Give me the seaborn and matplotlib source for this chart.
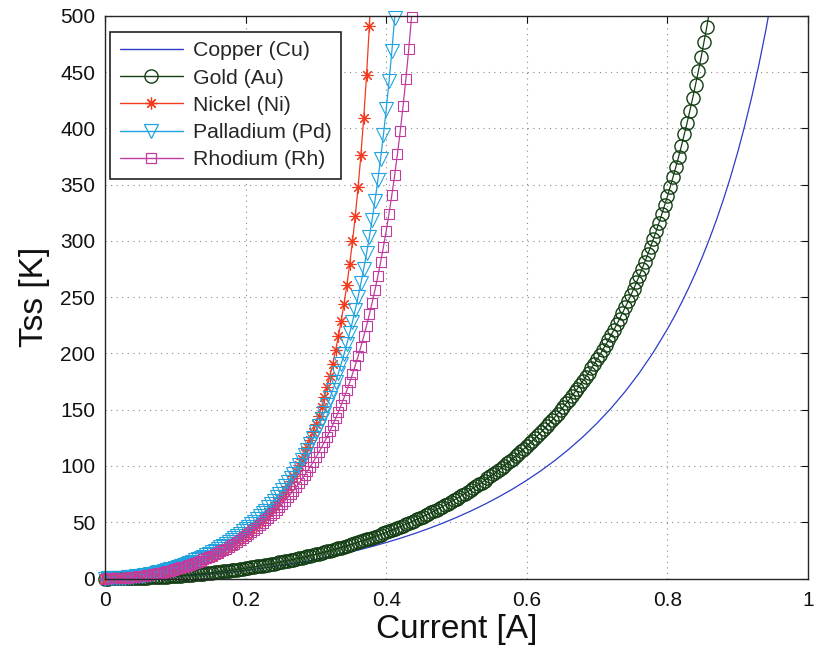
import numpy as np
import pandas as pd
import matplotlib
matplotlib.use("Agg")
import matplotlib.pyplot as plt
from matplotlib.lines import Line2D
import seaborn as sns

# ---------------- data ----------------
series_names = ["Copper (Cu)", "Gold (Au)", "Nickel (Ni)", "Palladium (Pd)", "Rhodium (Rh)"]

# Copper: plain line, currents listed explicitly
copper_current = [0.00, 0.02, 0.04, 0.06, 0.08, 0.10, 0.12, 0.14, 0.16, 0.18,
                  0.20, 0.22, 0.24, 0.26, 0.28, 0.30, 0.32, 0.34, 0.36, 0.38,
                  0.40, 0.42, 0.44, 0.46, 0.48, 0.50, 0.52, 0.54, 0.56, 0.58,
                  0.60, 0.62, 0.64, 0.66, 0.68, 0.70, 0.72, 0.74, 0.76, 0.78,
                  0.80, 0.81, 0.82, 0.83, 0.84, 0.85, 0.86, 0.87, 0.88, 0.89,
                  0.90, 0.91, 0.92, 0.93, 0.94, 0.95]
copper_T = [0, 0.07, 0.28, 0.63, 1.13, 1.77, 2.55, 3.49, 4.58, 5.82,
            7.23, 8.81, 10.56, 12.50, 14.62, 16.95, 19.48, 22.24, 25.23, 28.47,
            31.99, 35.78, 39.88, 44.31, 49.10, 54.28, 59.88, 65.94, 72.50, 79.62,
            87.36, 95.78, 104.97, 115.01, 126.01, 138.12, 151.46, 166.25, 182.69, 201.07,
            221.71, 233.02, 245.06, 257.91, 271.65, 286.37, 302.18, 319.20, 337.55, 357.43,
            379.00, 402.50, 428.17, 456.36, 487.43, 521.83]

# marker series are sampled every 0.004 A starting at 0 A
current_step = 0.004

gold_T = [0, 0.00, 0.01, 0.03, 0.06, 0.09, 0.13, 0.17, 0.22, 0.28,
          0.35, 0.42, 0.50, 0.59, 0.69, 0.79, 0.90, 1.02, 1.14, 1.27,
          1.41, 1.55, 1.71, 1.87, 2.03, 2.21,
          2.39, 2.58, 2.77, 2.98, 3.19, 3.41, 3.64, 3.87, 4.11, 4.36,
          4.62, 4.89, 5.16, 5.44, 5.73, 6.03, 6.33, 6.65, 6.97, 7.30,
          7.64, 7.99, 8.34, 8.71, 9.08, 9.46, 9.85, 10.3, 10.7, 11.1,
          11.5, 11.9, 12.4, 12.8, 13.3, 13.8, 14.3, 14.7, 15.2, 15.8,
          16.3, 16.8, 17.4, 17.9, 18.5, 19.0, 19.6, 20.2, 20.8, 21.5,
          22.1, 22.7, 23.4, 24.0, 24.7, 25.4, 26.1, 26.8, 27.5, 28.3,
          29.0, 29.8, 30.6, 31.4, 32.2, 33.0, 33.8, 34.7, 35.5, 36.4,
          37.3, 38.2, 39.1, 40.1, 41.0, 42.0, 43.0, 44.0, 45.0, 46.0,
          47.1, 48.2, 49.2, 50.4, 51.5, 52.6, 53.8, 55.0, 56.2, 57.4,
          58.7, 60.0, 61.2, 62.6, 63.9, 65.3, 66.6, 68.1, 69.5, 71.0,
          72.4, 74.0, 75.5, 77.1, 78.7, 80.3, 81.9, 83.6, 85.3, 87.1,
          88.9, 90.7, 92.5, 94.4, 96.3, 98.3, 100.3, 102.3, 104.3, 106.4,
          108.6, 110.8, 113.0, 115.3, 117.6, 120.0, 122.4, 124.9, 127.4, 129.9,
          132.6, 135.2, 138.0, 140.7, 143.6, 146.5, 149.5, 152.5, 155.6, 158.8,
          162.0, 165.4, 168.8, 172.2, 175.8, 179.4, 183.1, 187.0, 190.9, 194.9,
          199.0, 203.2, 207.5, 211.9, 216.4, 221.1, 225.9, 230.8, 235.8, 241.0,
          246.3, 251.8, 257.4, 263.2, 269.1, 275.2, 281.6, 288.1, 294.8, 301.7,
          308.8, 316.2, 323.8, 331.6, 339.7, 348.1, 356.8, 365.8, 375.1, 384.7,
          394.7, 405.1, 415.9, 427.1, 438.8, 450.9, 463.5, 476.7, 490.4, 504.8]

nickel_T = [0.00, 0.01, 0.05, 0.11, 0.20, 0.31, 0.44, 0.60, 0.79, 1.00,
            1.24, 1.50, 1.79, 2.11, 2.45, 2.82, 3.21, 3.64, 4.09, 4.58,
            5.09, 5.63, 6.20, 6.81, 7.45, 8.12, 8.82, 9.56, 10.3, 11.1,
            12.0, 12.9, 13.8, 14.8, 15.8, 16.8, 18.0, 19.1, 20.3, 21.6,
            22.9, 24.2, 25.6, 27.1, 28.6, 30.2, 31.9, 33.7, 35.5, 37.4,
            39.3, 41.4, 43.6, 45.8, 48.2, 50.6, 53.2, 55.9, 58.7, 61.6,
            64.7, 68.0, 71.3, 74.9, 78.7, 82.6, 86.8, 91.2, 95.8, 100.7,
            105.9, 111.4, 117.2, 123.4, 129.9, 137.0, 144.4, 152.5, 161.1, 170.3,
            180.3, 191.0, 202.7, 215.4, 229.2, 244.3, 261.0, 279.3, 299.7, 322.4,
            347.9, 376.7, 409.6, 447.3, 491.1, 542.6]

palladium_T = [0.00, 0.02, 0.06, 0.13, 0.24, 0.37, 0.53, 0.72, 0.94, 1.20,
               1.48, 1.79, 2.14, 2.51, 2.92, 3.35, 3.82, 4.33, 4.86, 5.43,
               6.03, 6.67, 7.34, 8.05, 8.79, 9.57, 10.4, 11.2, 12.1, 13.1,
               14.0, 15.1, 16.1, 17.2, 18.4, 19.5, 20.8, 22.1, 23.4, 24.8,
               26.2, 27.7, 29.3, 30.9, 32.5, 34.2, 36.0, 37.9, 39.8, 41.8,
               43.8, 45.9, 48.1, 50.4, 52.8, 55.3, 57.8, 60.4, 63.2, 66.0,
               69.0, 72.0, 75.2, 78.5, 81.9, 85.4, 89.1, 93.0, 97.0, 101.1,
               105.4, 109.9, 114.6, 119.5, 124.6, 130.0, 135.6, 141.4, 147.5, 153.9,
               160.6, 167.6, 175.0, 182.7, 190.9, 199.5, 208.5, 218.1, 228.2, 239.0,
               250.3, 262.4, 275.2, 288.9, 303.5, 319.1, 335.9, 353.9, 373.3, 394.3,
               417.0, 441.8, 468.7, 498.3, 530.8]

rhodium_T = [0.00, 0.01, 0.05, 0.12, 0.21, 0.32, 0.46, 0.63, 0.83, 1.05,
             1.29, 1.57, 1.87, 2.19, 2.55, 2.93, 3.34, 3.78, 4.25, 4.74,
             5.27, 5.82, 6.40, 7.02, 7.66, 8.34, 9.05, 9.79, 10.6, 11.4,
             12.2, 13.1, 14.0, 15.0, 15.9, 17.0, 18.0, 19.1, 20.3, 21.5,
             22.7, 24.0, 25.3, 26.6, 28.1, 29.5, 31.0, 32.6, 34.2, 35.9,
             37.6, 39.4, 41.3, 43.2, 45.2, 47.2, 49.4, 51.6, 53.8, 56.2,
             58.6, 61.1, 63.7, 66.4, 69.2, 72.1, 75.1, 78.2, 81.4, 84.8,
             88.2, 91.8, 95.6, 99.5, 103.5, 107.7, 112.1, 116.6, 121.3, 126.2,
             131.4, 136.7, 142.3, 148.2, 154.3, 160.7, 167.4, 174.4, 181.8, 189.5,
             197.6, 206.2, 215.2, 224.7, 234.7, 245.3, 256.6, 268.5, 281.2, 294.7,
             309.0, 324.4, 340.9, 358.5, 377.5, 398.0, 420.1, 444.2, 470.3, 498.9,
             530.3]

x_ticks = [0, 0.2, 0.4, 0.6, 0.8, 1.0]
x_tick_labels = ["0", "0.2", "0.4", "0.6", "0.8", "1"]
y_ticks = [0, 50, 100, 150, 200, 250, 300, 350, 400, 450, 500]
x_label = "Current [A]"
y_label = "Tss [K]"

# ---------------- styling ----------------
sns.set_theme(style="white")
plt.rcParams["font.family"] = ["Liberation Sans", "DejaVu Sans"]

colors = ["#2a3cc8", "#143f14", "#f23a1f", "#21a3df", "#c13c9f"]
markers = [None, "o", (8, 2, 0), "v", "s"]
msizes = [0, 9.5, 8.5, 10.0, 7.5]
medges = [0, 1.0, 0.8, 0.8, 0.8]

fig = plt.figure(figsize=(8.18, 6.5), dpi=100)
ax = fig.add_axes([0.1284, 0.110, 0.8594, 0.8654])

def idx_current(values):
    return np.arange(len(values)) * current_step

all_series = [
    (copper_current, copper_T),
    (idx_current(gold_T), gold_T),
    (idx_current(nickel_T), nickel_T),
    (idx_current(palladium_T), palladium_T),
    (idx_current(rhodium_T), rhodium_T),
]

handles = []
for (cur, temp), name, c, m, ms, mew in zip(all_series, series_names, colors,
                                             markers, msizes, medges):
    df = pd.DataFrame({"I": cur, "T": temp})
    sns.lineplot(data=df, x="I", y="T", ax=ax, color=c, linewidth=0.9,
                 sort=False, estimator=None, legend=False)
    if m is not None:
        dm = df[df["T"] <= 500]
        sns.lineplot(data=dm, x="I", y="T", ax=ax, color=c, linewidth=0,
                     marker=m, markersize=ms, markerfacecolor="none",
                     markeredgecolor=c, markeredgewidth=mew,
                     sort=False, estimator=None, legend=False, clip_on=False)
    handles.append(Line2D([], [], color=c, linewidth=1.0, marker=m if m else None,
                          markersize=ms, markerfacecolor="none",
                          markeredgecolor=c, markeredgewidth=max(mew, 0.9)))

ax.set_xlim(0, 1)
ax.set_ylim(0, 500)
ax.set_xticks(x_ticks)
ax.set_xticklabels(x_tick_labels)
ax.set_yticks(y_ticks)
ax.set_axisbelow(True)
ax.grid(True, linestyle=(0, (1, 4)), color="#8a8a8a", linewidth=0.8)

for sp in ax.spines.values():
    sp.set_visible(True)
    sp.set_color("#262626")
    sp.set_linewidth(1.0)

ax.tick_params(direction="in", length=5, width=0.8, top=True, right=True,
               labelsize=15, pad=7, colors="#111111")
ax.tick_params(axis="x", pad=9)

ax.set_xlabel(x_label, fontsize=24, labelpad=3, color="#111111")
ax.set_ylabel(y_label, fontsize=24, labelpad=7, color="#111111")

leg = ax.legend(handles, series_names, loc="upper left",
                bbox_to_anchor=(0.007, 0.972), borderaxespad=0,
                fontsize=15.3, frameon=True, fancybox=False, framealpha=1,
                edgecolor="#222222", handlelength=3.0, handletextpad=0.45,
                labelspacing=0.39, borderpad=0.45, numpoints=1)
leg.get_frame().set_linewidth(1.2)

fig.savefig("out.png", dpi=100)
